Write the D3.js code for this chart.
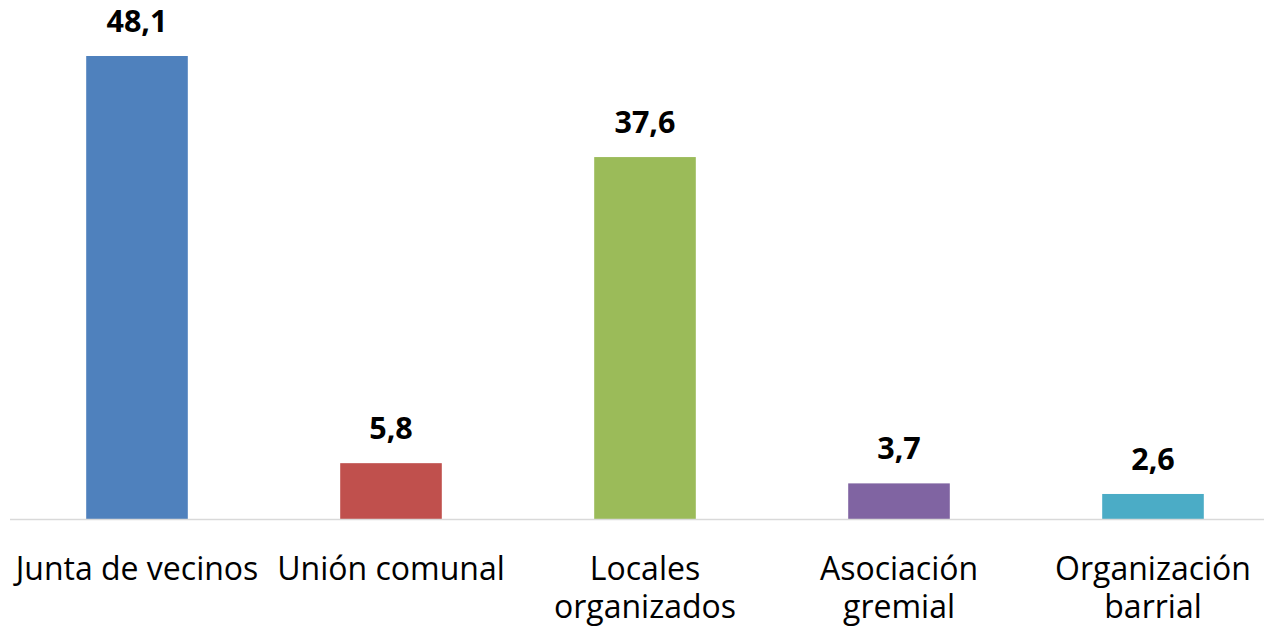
<!DOCTYPE html>
<html>
<head>
<meta charset="utf-8">
<script src="https://cdn.jsdelivr.net/npm/d3@7"></script>
<style>
  body { margin: 0; background: #fff; }
  svg { display: block; }
</style>
</head>
<body>
<svg width="1264" height="630"></svg>
<script>
var svg = d3.select("svg"),
  width = +svg.attr("width"),
  height = +svg.attr("height");

var categories = ["Junta de vecinos", "Unión comunal", "Locales organizados", "Asociación gremial", "Organización barrial"];
var labelLines = [["Junta de vecinos"], ["Unión comunal"], ["Locales", "organizados"], ["Asociación", "gremial"], ["Organización", "barrial"]];
var values = [48.1, 5.8, 37.6, 3.7, 2.6];
var colors = ["#4F81BD", "#C0504D", "#9BBB59", "#8064A2", "#4BACC6"];

var font = "'Open Sans', Calibri, sans-serif";
var baseY = 519;

var xScale = d3.scaleBand().domain(categories).range([10, 1280]).paddingInner(0.6).paddingOuter(0.3);
var yScale = d3.scaleLinear().domain([0, 48.1]).range([baseY, 56]);

// bars
svg.selectAll("rect")
  .data(values)
  .enter()
  .append("rect")
  .attr("x", function (d, i) { return xScale(categories[i]); })
  .attr("y", function (d) { return yScale(d); })
  .attr("width", xScale.bandwidth())
  .attr("height", function (d) { return baseY - yScale(d); })
  .attr("fill", function (d, i) { return colors[i]; });

// axis line
svg.append("line")
  .attr("x1", 10).attr("x2", width)
  .attr("y1", baseY + 0.5).attr("y2", baseY + 0.5)
  .attr("stroke", "#d9d9d9")
  .attr("stroke-width", 1.5);

// value labels
svg.selectAll(".val")
  .data(values)
  .enter()
  .append("text")
  .attr("class", "val")
  .attr("x", function (d, i) { return xScale(categories[i]) + xScale.bandwidth() / 2; })
  .attr("y", function (d) { return yScale(d) - 24; })
  .attr("text-anchor", "middle")
  .attr("font-family", font)
  .attr("font-weight", "bold")
  .attr("font-size", 30.5)
  .attr("fill", "#000")
  .text(function (d) { return d3.format(".1f")(d).replace(".", ","); });

// category labels
var cats = svg.selectAll(".cat")
  .data(categories)
  .enter()
  .append("text")
  .attr("class", "cat")
  .attr("text-anchor", "middle")
  .attr("font-family", font)
  .attr("font-size", 32)
  .attr("fill", "#000")
  .attr("transform", function (d) { return "translate(" + (xScale(d) + xScale.bandwidth() / 2) + ",0)"; });

cats.selectAll("tspan")
  .data(function (d, i) { return labelLines[i]; })
  .enter()
  .append("tspan")
  .attr("x", 0)
  .attr("y", function (d, j) { return 580 + j * 38; })
  .text(function (d) { return d; });
</script>
</body>
</html>
